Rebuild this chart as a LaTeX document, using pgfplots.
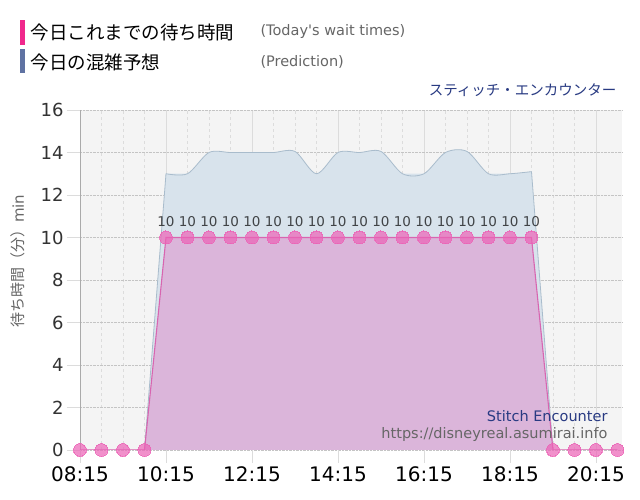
\documentclass[border=0pt]{standalone}
\usepackage{fontspec}
\setmainfont{DejaVu Sans}
\newfontfamily\jp{Noto Sans CJK JP}
\usepackage{pgfplots}
\usepackage{pgfplotstable}
\pgfplotsset{compat=1.18}

\definecolor{pinkbar}{HTML}{F0288C}
\definecolor{bluebar}{HTML}{5F72A2}
\definecolor{navy}{HTML}{283A82}
\definecolor{txtgray}{HTML}{666666}
\definecolor{ylab}{HTML}{333333}
\definecolor{bggray}{HTML}{F4F4F4}
\definecolor{gridc}{HTML}{C4C4C4}
\definecolor{vgrid}{HTML}{DCDCDC}
\definecolor{axisgray}{HTML}{AAAAAA}
\definecolor{predfill}{HTML}{D8E3EC}
\definecolor{predline}{HTML}{A9BCCC}
\definecolor{waitfill}{HTML}{DBB5DA}
\definecolor{waitline}{HTML}{D865B0}
\definecolor{markc}{HTML}{EC62B6}

\newcommand\px[1]{\fontsize{#1}{#1}\selectfont}

% today's wait times, hours (8.25 = 08:15)
\pgfplotstableread{
t     w
8.25  0
8.75  0
9.25  0
9.75  0
10.25 10
10.75 10
11.25 10
11.75 10
12.25 10
12.75 10
13.25 10
13.75 10
14.25 10
14.75 10
15.25 10
15.75 10
16.25 10
16.75 10
17.25 10
17.75 10
18.25 10
18.75 10
19.25 0
19.75 0
20.25 0
20.75 0
}\wait

% prediction, open hours
\pgfplotstableread{
t     p
10.25 13
10.75 13
11.25 14
11.75 14
12.25 14
12.75 14
13.25 14.05
13.75 13
14.25 14
14.75 14
15.25 14.05
15.75 13
16.25 13
16.75 14
17.25 14.05
17.75 13
18.25 13
18.75 13.1
}\pred

\begin{document}
\begin{tikzpicture}[x=1pt,y=1pt]
\useasboundingbox (-80,-50) rectangle (560,450);
\fill[white] (-80,-50) rectangle (560,450);

\begin{axis}[
    anchor=south west,
    scale only axis, width=542pt, height=340pt,
    xmin=8.25, xmax=20.855, ymin=0, ymax=16,
    xtick={8.25,10.25,12.25,14.25,16.25,18.25,20.25},
    xticklabels={08:15,10:15,12:15,14:15,16:15,18:15,20:15},
    minor x tick num=3,
    ytick={0,2,4,6,8,10,12,14,16},
    axis background/.style={fill=bggray},
    axis y line*=left, axis x line*=bottom,
    x axis line style={draw=none},
    y axis line style={-, draw=axisgray},
    tick align=outside, major tick length=13pt, minor tick length=0pt,
    major tick style={draw=vgrid, line width=0.8pt},
    xmajorgrids, xminorgrids, ymajorgrids,
    major x grid style={solid, draw=vgrid},
    minor x grid style={dashed, draw=vgrid},
    major y grid style={densely dotted, draw=gridc},
    /pgf/number format/assume math mode=true,
    yticklabel style={font=\px{18}, text=ylab},
    xticklabel style={font=\px{20}, text=black},
    ylabel={\jp 待ち時間（分）\rmfamily min},
    ylabel style={at={(axis description cs:-0.114,0.555)}, anchor=center,
      font=\px{15}, text=txtgray},
  ]
  % prediction area
  \addplot[mark=none, draw=none, fill=predfill] coordinates {(9.75,0) (10.25,13) (18.75,13) (19.25,0)} \closedcycle;
  \addplot[mark=none, draw=none, fill=predfill, smooth, tension=0.5] table[x=t, y=p] {\pred} \closedcycle;
  \addplot[mark=none, predline, line width=0.8pt, smooth, tension=0.5] table[x=t, y=p] {\pred};
  \addplot[mark=none, predline, line width=0.8pt] coordinates {(9.75,0) (10.25,13)};
  \addplot[mark=none, predline, line width=0.8pt] coordinates {(18.75,13.1) (19.25,0)};
  % wait times area
  \addplot[mark=none, draw=none, fill=waitfill] table[x=t, y=w] {\wait} \closedcycle;
  \addplot[waitline, line width=1.1pt, mark=*, mark size=6.5pt,
    mark options={solid, draw=markc, line width=0pt, fill=markc, opacity=0.7},
    nodes near coords={\pgfmathfloatifflags{\pgfplotspointmeta}{0}{}{\pgfmathprintnumber{\pgfplotspointmeta}}},
    every node near coord/.style={font=\px{13.5}, text=black, anchor=south, yshift=7.5pt}]
    table[x=t, y=w] {\wait};
\end{axis}

\begin{scope}[shift={(-80,-50)}]
% titles
\fill[pinkbar] (20,455) rectangle (25,480);
\node[anchor=west, font=\jp\px{18.5}] at (27,467.5) {今日これまでの待ち時間};
\node[anchor=west, font=\px{14.5}, text=txtgray] at (257,468.5) {(Today\textquotesingle s wait times)};
\fill[bluebar] (20,427) rectangle (25,451);
\node[anchor=west, font=\jp\px{18.5}] at (27,438) {今日の混雑予想};
\node[anchor=west, font=\px{14.5}, text=txtgray] at (257,438) {(Prediction)};
\node[anchor=east, font=\jp\px{14.5}, text=navy] at (620,410) {スティッチ・エンカウンター};

% watermark
\node[anchor=east, font=\px{14.5}, text=navy] at (611,84) {Stitch Encounter};
\node[anchor=east, font=\px{14.5}, text=txtgray] at (611,65) {https://disneyreal.asumirai.info};
\end{scope}
\end{tikzpicture}
\end{document}
